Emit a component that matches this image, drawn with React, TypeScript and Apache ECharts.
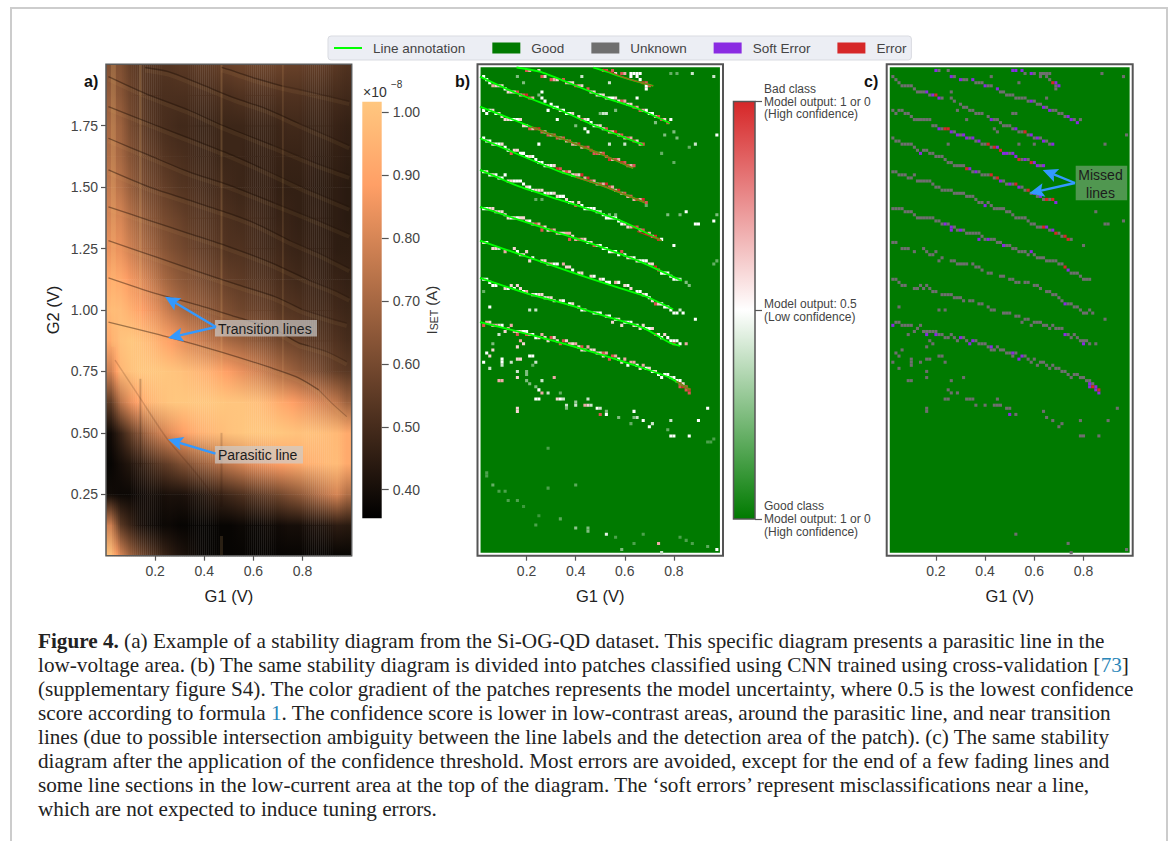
import React, { useEffect, useRef } from "react";
import * as echarts from "echarts";

const SANS = "Liberation Sans";
const SERIF = "Liberation Serif";

// --- tick labels / categories
const X_TICKS = [0.2, 0.4, 0.6, 0.8];
const Y_TICKS = [0.25, 0.5, 0.75, 1.0, 1.25, 1.5, 1.75];
const CBAR_TICKS = [0.4, 0.5, 0.6, 0.7, 0.8, 0.9, 1.0];
const CONF_TICKS = [0, 0.5, 1];
const CONF_LABELS = [
  "Good class\nModel output: 1 or 0\n(High confidence)",
  "Model output: 0.5\n(Low confidence)",
  "Bad class\nModel output: 1 or 0\n(High confidence)",
];
const LEGEND_NAMES = ["Line annotation", "Good", "Unknown", "Soft Error", "Error"];

// --- panel a: current (x 1e-10 A); rows from G2 = 2 down to 0, 25 columns of G1
const HEAT_ROWS = [
  [62, 62, 56, 54, 53, 53, 53, 54, 54, 55, 55, 56, 57, 58, 58, 58, 58, 58, 57, 57, 56, 56, 55, 54, 52],
  [66, 64, 58, 55, 52, 51, 51, 51, 51, 51, 51, 51, 51, 52, 52, 52, 52, 52, 52, 52, 51, 51, 50, 50, 49],
  [70, 68, 60, 56, 53, 51, 50, 49, 49, 48, 48, 48, 48, 48, 48, 48, 48, 48, 49, 49, 48, 48, 48, 47, 46],
  [72, 70, 63, 59, 56, 54, 52, 51, 50, 49, 49, 48, 48, 48, 47, 47, 47, 47, 47, 47, 47, 46, 46, 46, 45],
  [76, 74, 67, 62, 59, 57, 55, 53, 52, 51, 50, 50, 49, 48, 48, 47, 47, 46, 46, 46, 46, 45, 45, 45, 44],
  [80, 80, 73, 68, 64, 61, 59, 57, 55, 54, 53, 52, 51, 50, 50, 49, 48, 47, 47, 46, 46, 46, 45, 45, 44],
  [84, 84, 78, 73, 69, 65, 62, 60, 58, 56, 55, 54, 52, 52, 51, 50, 49, 49, 48, 47, 47, 46, 46, 45, 45],
  [92, 92, 86, 82, 77, 72, 68, 65, 63, 61, 59, 58, 56, 55, 54, 53, 52, 51, 50, 49, 49, 48, 47, 47, 46],
  [97, 98, 94, 89, 85, 81, 76, 72, 69, 67, 65, 63, 61, 59, 58, 57, 56, 54, 53, 52, 51, 50, 50, 49, 48],
  [92, 100, 102, 100, 97, 93, 89, 85, 81, 78, 75, 73, 70, 68, 66, 64, 62, 60, 58, 57, 55, 54, 53, 52, 50],
  [78, 96, 100, 102, 102, 102, 101, 100, 98, 96, 94, 91, 88, 85, 82, 79, 75, 72, 69, 66, 63, 61, 58, 56, 54],
  [55, 74, 84, 91, 96, 99, 101, 102, 102, 102, 102, 102, 101, 101, 100, 99, 96, 93, 90, 87, 84, 81, 78, 75, 68],
  [39, 47, 56, 64, 72, 78, 83, 87, 91, 94, 96, 98, 100, 101, 102, 102, 102, 102, 101, 100, 100, 99, 98, 97, 92],
  [37, 40, 43, 46, 50, 54, 57, 61, 64, 67, 70, 73, 76, 79, 82, 84, 86, 88, 90, 92, 94, 95, 97, 98, 92],
  [39, 38, 38, 39, 40, 40, 41, 41, 42, 43, 45, 47, 49, 51, 53, 55, 57, 59, 62, 65, 68, 72, 76, 80, 72],
  [78, 54, 47, 41, 39, 38, 38, 37, 37, 37, 37, 37, 37, 38, 38, 38, 39, 39, 40, 40, 41, 42, 43, 45, 44],
  [100, 80, 68, 60, 54, 49, 45, 42, 40, 38, 37, 37, 37, 37, 37, 37, 37, 37, 37, 37, 37, 37, 37, 37, 37],
];

// --- annotated transition lines [G1, G2]
const LINE_TOP0 = [[0.471, 1.987], [0.526, 1.97], [0.6, 1.945], [0.716, 1.912]];
const LINE_TOP1 = [[0.159, 1.987], [0.254, 1.97], [0.376, 1.923], [0.526, 1.862], [0.648, 1.821], [0.784, 1.76]];
const LINE_1 = [[0.01, 1.95], [0.159, 1.882], [0.336, 1.814], [0.471, 1.753], [0.675, 1.672]];
const LINE_2 = [[0.01, 1.828], [0.2, 1.753], [0.376, 1.685], [0.512, 1.631], [0.634, 1.577]];
const LINE_3 = [[0.01, 1.699], [0.172, 1.631], [0.336, 1.563], [0.499, 1.509], [0.682, 1.437]];
const LINE_4 = [[0.01, 1.57], [0.172, 1.502], [0.336, 1.448], [0.499, 1.394], [0.607, 1.353], [0.75, 1.282]];
const LINE_5 = [[0.01, 1.42], [0.172, 1.366], [0.336, 1.312], [0.499, 1.258], [0.662, 1.197], [0.832, 1.119]];
const LINE_6 = [[0.01, 1.282], [0.2, 1.217], [0.376, 1.156], [0.539, 1.102], [0.689, 1.054], [0.797, 1.003]];
const LINE_7 = [[0.01, 1.131], [0.2, 1.068], [0.376, 1.02], [0.526, 0.973], [0.675, 0.927], [0.784, 0.866], [0.825, 0.854]];
const LINE_8 = [[0.01, 0.951], [0.254, 0.89], [0.47, 0.829], [0.674, 0.764], [0.784, 0.724], [0.866, 0.675]];
const GREEN_LINES = [LINE_TOP0, LINE_TOP1, LINE_1, LINE_2, LINE_3, LINE_4, LINE_5, LINE_6, LINE_7, LINE_8];

// panel a shows the same lines running on towards the right edge
const TAILS = [
  [[0.82, 1.89], [0.99, 1.85]],
  [[0.9, 1.71], [0.99, 1.67]],
  [[0.85, 1.6], [0.99, 1.55]],
  [[0.8, 1.5], [0.99, 1.42]],
  [[0.85, 1.37], [0.99, 1.31]],
  [[0.87, 1.23], [0.99, 1.17]],
  [[0.93, 1.08], [0.99, 1.05]],
  [[0.9, 0.97], [0.98, 0.947]],
  [[0.9, 0.83], [0.98, 0.79]],
  [[0.92, 0.62], [0.98, 0.566]],
];
const PARASITIC = [[0.037, 0.796], [0.139, 0.641], [0.247, 0.478], [0.356, 0.349], [0.451, 0.227]];
const RED_SEGMENTS = [
  [[0.512, 1.98], [0.6, 1.945], [0.716, 1.912]],
  [[0.22, 1.745], [0.376, 1.685], [0.512, 1.631], [0.634, 1.577]],
  [[0.4, 1.541], [0.499, 1.509], [0.682, 1.437]],
  [[0.65, 1.32], [0.75, 1.282]],
  [[0.81, 0.71], [0.866, 0.675]],
];
// vertical measurement stripes: [G1, G2 from, G2 to, colour, width]
const STRIPES = [
  [0.03, 0.85, 2.0, "rgba(255,199,127,0.2)", 5],
  [0.14, 0.76, 2.0, "rgba(255,199,127,0.2)", 2],
  [0.14, 0.36, 0.72, "rgba(30,15,5,0.22)", 2],
  [0.47, 0.62, 2.0, "rgba(255,199,127,0.18)", 2],
  [0.47, 0.2, 0.5, "rgba(30,15,5,0.16)", 2],
  [0.47, 0, 0.08, "rgba(255,199,127,0.14)", 3],
  [0.72, 0.62, 2.0, "rgba(255,199,127,0.14)", 1.5],
];

// --- classified patches: [column, row, model output %] in a lattice of 80 x 160
const PATCH_TOP0 = [[41, 158, 90], [42, 158, 90], [44, 158, 90], [45, 157, 60], [47, 157, 90], [48, 157, 70], [50, 157, 50], [51, 157, 50], [52, 157, 50], [53, 157, 50], [50, 156, 50], [52, 156, 50], [53, 155, 50], [54, 154, 100], [55, 154, 90], [56, 153, 90], [55, 153, 50], [55, 152, 50]];
const PATCH_TOP1 = [[16, 158, 90], [20, 158, 60], [21, 156, 90], [24, 155, 90], [26, 155, 60], [28, 155, 90], [30, 154, 60], [32, 153, 90], [36, 152, 90], [37, 151, 60], [40, 150, 50], [43, 149, 50], [45, 149, 60], [47, 148, 90], [50, 147, 60], [51, 146, 90], [53, 145, 90], [55, 145, 50], [59, 143, 90], [62, 141, 90], [63, 142, 50], [60, 142, 90], [61, 142, 60],
  [17, 158, 70], [22, 156, 60], [25, 155, 70], [29, 154, 70], [31, 154, 60], [33, 153, 70], [34, 153, 60], [38, 151, 60], [39, 150, 60], [41, 150, 60], [42, 149, 60], [44, 149, 50], [46, 148, 60], [48, 148, 70], [49, 147, 60], [52, 146, 70], [54, 145, 70], [56, 144, 50], [57, 144, 50], [58, 143, 70]];
const PATCH_1 = [[2, 156, 50], [3, 155, 50], [5, 153, 70], [8, 153, 60], [10, 151, 60], [13, 151, 90], [15, 150, 90], [16, 150, 100], [17, 149, 90], [21, 149, 50], [25, 146, 50], [26, 146, 50], [27, 145, 60], [28, 145, 50], [30, 144, 50], [33, 143, 60], [34, 142, 90], [37, 141, 50], [39, 140, 60], [42, 139, 90], [45, 138, 100], [47, 137, 90], [49, 136, 90], [51, 135, 90], [54, 134, 90],
  [4, 154, 50], [6, 153, 60], [7, 153, 60], [9, 152, 50], [11, 151, 60], [12, 151, 60], [14, 150, 70], [18, 149, 70], [22, 148, 50], [24, 147, 50], [29, 144, 50], [31, 144, 60], [35, 142, 60], [36, 142, 50], [38, 140, 50], [40, 140, 60], [41, 139, 60], [43, 138, 70], [44, 138, 70], [46, 137, 70], [48, 136, 70], [50, 136, 70], [52, 135, 60], [53, 134, 70]];
const PATCH_2 = [[2, 145, 50], [3, 144, 50], [5, 145, 60], [8, 143, 60], [10, 142, 60], [12, 142, 50], [14, 142, 60], [15, 140, 60], [17, 139, 90], [19, 139, 100], [20, 139, 100], [21, 138, 90], [23, 137, 90], [25, 137, 90], [26, 136, 90], [28, 136, 90], [30, 135, 90], [31, 134, 70], [33, 134, 100], [35, 133, 100], [36, 133, 90], [37, 132, 100], [38, 131, 90], [39, 131, 90], [41, 131, 90], [42, 130, 90], [43, 129, 100], [45, 129, 90], [47, 128, 100], [48, 128, 90], [49, 127, 90], [51, 127, 90],
  [4, 145, 50], [6, 144, 50], [7, 144, 60], [9, 142, 60], [11, 142, 50], [13, 142, 50], [16, 140, 60], [18, 139, 70], [22, 138, 70], [24, 137, 70], [27, 136, 70], [29, 135, 70], [32, 134, 70], [34, 133, 70], [40, 131, 70], [44, 129, 70], [46, 129, 70], [50, 127, 70]];
const PATCH_3 = [[2, 136, 50], [5, 134, 60], [8, 134, 60], [9, 133, 50], [11, 131, 90], [12, 132, 60], [15, 131, 50], [17, 130, 60], [20, 128, 50], [21, 128, 50], [23, 127, 60], [24, 127, 50], [26, 126, 100], [27, 126, 90], [29, 125, 90], [32, 124, 70], [34, 124, 100], [36, 123, 100], [37, 122, 90], [40, 121, 90], [42, 121, 100], [43, 120, 90], [46, 119, 100], [48, 118, 90], [50, 117, 90], [52, 116, 100], [54, 116, 100], [55, 115, 90],
  [3, 135, 50], [4, 135, 50], [6, 134, 50], [7, 134, 50], [10, 132, 50], [13, 132, 60], [14, 131, 50], [16, 130, 50], [18, 130, 50], [19, 129, 50], [22, 127, 50], [25, 127, 60], [28, 125, 70], [30, 125, 70], [31, 124, 60], [33, 124, 60], [35, 123, 70], [38, 122, 70], [39, 121, 70], [41, 121, 70], [44, 120, 70], [45, 119, 70], [47, 118, 70], [49, 117, 70], [51, 116, 70], [53, 116, 70]];
const PATCH_4 = [[2, 125, 50], [5, 124, 60], [9, 124, 50], [10, 122, 60], [14, 122, 50], [16, 120, 60], [18, 119, 50], [21, 119, 60], [22, 118, 50], [25, 118, 60], [27, 117, 50], [29, 116, 60], [32, 114, 90], [33, 115, 60], [35, 113, 50], [38, 113, 50], [40, 112, 40], [42, 110, 50], [45, 110, 50], [47, 108, 50], [49, 107, 60], [51, 107, 100], [52, 107, 90], [54, 106, 90], [55, 105, 100], [58, 104, 100], [59, 103, 100], [60, 103, 50],
  [3, 125, 60], [4, 124, 50], [6, 124, 50], [7, 123, 50], [8, 123, 50], [11, 122, 60], [12, 122, 50], [13, 122, 50], [15, 121, 50], [17, 120, 50], [19, 119, 60], [20, 119, 60], [23, 118, 60], [24, 118, 50], [26, 117, 60], [28, 117, 50], [30, 115, 50], [31, 115, 60], [34, 114, 50], [36, 113, 50], [37, 113, 50], [39, 112, 50], [41, 111, 50], [43, 110, 50], [44, 110, 50], [46, 109, 50], [48, 108, 60], [50, 107, 70], [53, 106, 70], [56, 105, 70], [57, 104, 70]];
const PATCH_5 = [[2, 113, 50], [5, 113, 60], [8, 112, 60], [10, 110, 60], [14, 110, 60], [16, 109, 60], [19, 108, 90], [21, 107, 90], [21, 106, 90], [24, 106, 90], [28, 105, 60], [30, 105, 70], [30, 103, 90], [33, 103, 90], [35, 103, 60], [38, 101, 90], [40, 101, 50], [42, 100, 50], [43, 99, 50], [47, 99, 90], [46, 98, 50], [49, 97, 60], [52, 96, 60], [54, 96, 50], [58, 94, 100], [59, 93, 90], [60, 92, 50], [62, 92, 50], [64, 90, 50], [66, 90, 40],
  [3, 113, 50], [4, 113, 60], [6, 112, 60], [7, 112, 60], [9, 111, 60], [11, 110, 50], [12, 110, 60], [13, 110, 50], [15, 110, 60], [17, 109, 50], [18, 108, 70], [20, 108, 70], [22, 107, 60], [23, 106, 60], [25, 106, 70], [26, 105, 70], [27, 105, 60], [29, 105, 70], [31, 104, 60], [32, 103, 70], [34, 103, 70], [36, 102, 50], [37, 102, 60], [39, 101, 60], [41, 100, 50], [44, 99, 60], [45, 99, 50], [48, 98, 50], [50, 97, 60], [51, 97, 50], [53, 96, 50], [55, 96, 50], [56, 95, 60], [57, 95, 60], [61, 92, 50], [63, 91, 50], [65, 90, 50]];
const PATCH_6 = [[2, 102, 60], [5, 100, 60], [9, 99, 70], [12, 100, 60], [14, 98, 60], [16, 99, 60], [17, 96, 60], [21, 96, 60], [24, 95, 70], [28, 95, 70], [30, 94, 60], [33, 92, 60], [37, 91, 60], [40, 90, 60], [42, 89, 50], [45, 89, 70], [48, 88, 60], [50, 87, 60], [54, 85, 60], [55, 85, 50], [58, 82, 90], [60, 82, 50], [62, 81, 50], [64, 79, 50], [66, 80, 40], [67, 79, 50],
  [3, 102, 50], [6, 100, 60], [7, 100, 40], [13, 99, 50], [15, 98, 60], [18, 97, 50], [22, 96, 60], [23, 95, 60], [25, 95, 50], [26, 95, 50], [29, 94, 60], [31, 93, 50], [34, 92, 60], [38, 91, 50], [41, 90, 50], [43, 89, 50], [46, 89, 50], [49, 88, 50], [52, 86, 50], [53, 86, 50], [56, 84, 50], [57, 83, 60], [59, 82, 60], [61, 81, 50], [63, 80, 50], [65, 79, 50]];
const PATCH_7 = [[2, 90, 50], [4, 89, 50], [9, 87, 60], [11, 88, 60], [14, 87, 60], [16, 86, 70], [20, 85, 60], [23, 84, 60], [27, 83, 60], [30, 82, 50], [33, 81, 60], [38, 79, 50], [42, 78, 60], [44, 76, 60], [46, 77, 60], [47, 75, 60], [49, 76, 50], [50, 76, 50], [51, 75, 60], [53, 74, 60], [54, 75, 60], [57, 74, 60], [58, 72, 90], [60, 71, 50], [61, 72, 60], [63, 70, 50], [64, 70, 50], [64, 69, 90], [66, 69, 50], [68, 69, 70],
  [3, 90, 50], [5, 88, 50], [6, 88, 50], [10, 87, 50], [12, 87, 50], [13, 88, 60], [15, 86, 50], [18, 85, 60], [19, 85, 50], [21, 85, 60], [22, 84, 50], [24, 84, 60], [25, 83, 60], [28, 83, 50], [31, 82, 60], [34, 80, 50], [35, 80, 60], [39, 79, 50], [40, 79, 50], [43, 78, 50], [45, 77, 50], [48, 76, 50], [52, 75, 50], [55, 74, 50], [56, 74, 50], [59, 72, 50], [62, 71, 50], [65, 70, 50]];
const PATCH_8 = [[2, 75, 90], [3, 76, 70], [7, 75, 60], [7, 72, 40], [9, 73, 60], [11, 75, 70], [13, 72, 90], [13, 73, 60], [15, 73, 50], [16, 73, 50], [16, 72, 90], [17, 72, 70], [20, 71, 60], [21, 72, 70], [23, 70, 60], [24, 71, 90], [25, 71, 60], [27, 69, 90], [28, 70, 90], [29, 70, 60], [32, 69, 70], [34, 67, 60], [34, 68, 90], [36, 68, 70], [38, 67, 60], [41, 66, 90], [42, 66, 70], [41, 65, 60], [44, 65, 90], [45, 65, 70], [43, 64, 90], [47, 63, 60], [48, 64, 70], [49, 62, 50], [51, 63, 70], [53, 61, 60], [54, 62, 70], [56, 61, 60], [58, 60, 60], [60, 58, 50], [62, 59, 50], [63, 58, 40], [65, 57, 50], [66, 57, 50], [66, 56, 90], [66, 55, 90], [67, 55, 100], [68, 55, 90], [69, 54, 100], [68, 54, 90], [69, 53, 90],
  [4, 76, 60], [5, 75, 70], [6, 75, 70], [8, 75, 50], [10, 74, 70], [12, 73, 70], [14, 73, 60], [18, 72, 50], [19, 71, 50], [22, 71, 60], [26, 70, 60], [30, 69, 70], [31, 69, 60], [33, 68, 60], [35, 67, 60], [37, 67, 60], [39, 66, 60], [40, 66, 60], [46, 64, 50], [50, 63, 70], [52, 62, 50], [55, 61, 50], [57, 60, 50], [59, 59, 50], [61, 59, 50], [64, 58, 50], [67, 56, 60]];
const PATCH_SCATTER = [[3, 66, 50], [5, 67, 60], [4, 65, 60], [2, 63, 50], [4, 61, 40], [8, 64, 50], [8, 63, 50], [8, 62, 40], [11, 63, 40], [13, 64, 60], [14, 64, 60], [17, 65, 50], [18, 65, 50], [19, 63, 40], [14, 70, 70], [15, 69, 60], [13, 68, 60], [13, 60, 40], [13, 58, 60], [7, 57, 70], [8, 57, 70], [21, 57, 40], [25, 58, 70], [20, 54, 50], [21, 53, 70], [23, 53, 40], [19, 51, 50], [20, 51, 50], [26, 51, 60], [27, 51, 50], [28, 51, 40], [36, 51, 40], [32, 49, 40], [29, 49, 40], [35, 49, 70], [36, 49, 60], [37, 49, 40], [39, 48, 50], [40, 48, 40], [40, 46, 90], [42, 46, 50], [51, 47, 50], [52, 45, 40], [54, 44, 50], [57, 43, 40], [56, 42, 50], [63, 44, 40], [63, 39, 50], [64, 39, 50], [69, 39, 50], [72, 44, 50], [75, 48, 50], [13, 48, 60], [13, 47, 60], [42, 7, 45], [59, 4, 70], [60, 1, 40], [78, 2, 50], [34, 156, 40], [43, 154, 40], [70, 157, 40], [77, 156, 40], [52, 149, 50], [21, 151, 50], [23, 145, 50], [26, 142, 50], [41, 144, 40], [42, 144, 40], [35, 139, 50], [36, 138, 50], [43, 134, 40], [48, 134, 40], [20, 134, 50], [78, 137, 50], [71, 134, 40], [4, 81, 50], [17, 80, 40], [19, 80, 40], [71, 77, 50], [68, 112, 50], [71, 108, 50], [72, 108, 50], [77, 109, 50], [64, 101, 50]];
const PATCH_FAINT = [[13, 156, 25], [15, 154, 25], [20, 150, 25], [40, 144, 25], [32, 140, 25], [45, 145, 25], [64, 138, 25], [65, 136, 25], [69, 133, 20], [63, 157, 20], [65, 157, 20], [58, 141, 25], [61, 137, 25], [60, 131, 20], [64, 128, 20], [55, 114, 20], [62, 111, 25], [78, 111, 25], [66, 111, 25], [43, 111, 25], [45, 111, 25], [19, 116, 20], [21, 116, 20], [2, 86, 20], [78, 96, 20], [77, 95, 20], [68, 89, 25], [69, 88, 25], [5, 69, 25], [16, 60, 25], [16, 57, 25], [17, 56, 25], [16, 59, 25], [18, 62, 20], [19, 55, 25], [27, 53, 20], [32, 50, 30], [29, 48, 25], [42, 47, 25], [46, 45, 25], [51, 45, 25], [50, 43, 20], [62, 41, 20], [75, 37, 15], [76, 37, 15], [77, 38, 15], [3, 27, 15], [3, 26, 15], [5, 23, 20], [7, 21, 15], [9, 21, 15], [10, 18, 15], [13, 18, 15], [23, 22, 15], [32, 23, 18], [15, 16, 12], [20, 13, 12], [19, 10, 15], [27, 12, 18], [32, 9, 28], [36, 9, 25], [36, 8, 25], [45, 6, 15], [54, 7, 15], [51, 4, 15], [47, 2, 25], [66, 6, 15], [68, 5, 15], [70, 4, 15], [75, 3, 18], [23, 35, 15]];

const PATCHES = [
  ...PATCH_TOP0, ...PATCH_TOP1, ...PATCH_1, ...PATCH_2, ...PATCH_3, ...PATCH_4,
  ...PATCH_5, ...PATCH_6, ...PATCH_7, ...PATCH_8, ...PATCH_SCATTER, ...PATCH_FAINT,
];
const GOOD_AREA = [[0.0125, 0.0125, 0.9875, 1.9875]];

const CAPTION = [
  "{b|Figure 4.} (a) Example of a stability diagram from the Si-OG-QD dataset. This specific diagram presents a parasitic line in the",
  "low-voltage area. (b) The same stability diagram is divided into patches classified using CNN trained using cross-validation [{l|73}]",
  "(supplementary figure S4). The color gradient of the patches represents the model uncertainty, where 0.5 is the lowest confidence",
  "score according to formula {l|1}. The confidence score is lower in low-contrast areas, around the parasitic line, and near transition",
  "lines (due to possible intersection ambiguity between the line labels and the detection area of the patch). (c) The same stability",
  "diagram after the application of the confidence threshold. Most errors are avoided, except for the end of a few fading lines and",
  "some line sections in the low-current area at the top of the diagram. The ‘soft errors’ represent misclassifications near a line,",
  "which are not expected to induce tuning errors.",
];

// --- style
const CELL = 0.0125;
const GREEN = "#007a00";
const GREY = "#6f6f6f";
const PURPLE = "#8a2be2";
const RED = "#d62728";
const V_MIN = 0.3545;
const V_MAX = 1.017;
const CAPTION_SIZE = 21.2;

function copper(pct: number) {
  const t = Math.min(1, Math.max(0, (pct / 100 - V_MIN) / (V_MAX - V_MIN)));
  return `rgb(${Math.round(255 * Math.min(1, 1.25 * t))},${Math.round(199 * t)},${Math.round(127 * t)})`;
}
function confidence(pct: number) {
  const t = pct / 100;
  const lerp = (a: number[], b: number[], k: number) =>
    `rgb(${a.map((v, i) => Math.round(v + (b[i] - v) * k)).join(",")})`;
  return t < 0.5 ? lerp([0, 122, 0], [255, 255, 255], t / 0.5) : lerp([255, 255, 255], [214, 39, 40], (t - 0.5) / 0.5);
}

const heatData: number[][] = [];
HEAT_ROWS.slice(0, -1).forEach((row, r) => row.forEach((v, c) => heatData.push([c, r, v])));

// one read value per cell; each cell is painted in narrow strips that blend towards its neighbours
const STRIPS = 5;
const rowVal = (r: number, u: number) => {
  const row = HEAT_ROWS[r];
  const p = Math.max(0, Math.min(row.length - 1, u));
  const a = Math.floor(p), b = Math.min(row.length - 1, a + 1);
  return row[a] + (row[b] - row[a]) * (p - a);
};
const renderHeat = (_: any, api: any) => {
  const c = api.value(0), r = api.value(1);
  const w = 1 / 25, h = 2 / (HEAT_ROWS.length - 1);
  const p0 = api.coord([c * w, 2 - r * h]);
  const p1 = api.coord([(c + 1) * w, 2 - (r + 1) * h]);
  const sw = (p1[0] - p0[0]) / STRIPS;
  const children = [];
  for (let s = 0; s < STRIPS; s++) {
    const u = c + (s + 0.5) / STRIPS - 0.5;
    children.push({
      type: "rect",
      shape: { x: p0[0] + s * sw, y: p0[1], width: sw + (c === 24 && s === STRIPS - 1 ? 0 : 0.4), height: p1[1] - p0[1] + 0.5 },
      style: {
        fill: new echarts.graphic.LinearGradient(0, 0, 0, 1, [
          { offset: 0, color: copper(rowVal(r, u)) },
          { offset: 1, color: copper(rowVal(r + 1, u)) },
        ]),
      },
    });
  }
  return { type: "group", children };
};
const renderArea = (color: string) => (_: any, api: any) => {
  const p0 = api.coord([api.value(0), api.value(3)]);
  const p1 = api.coord([api.value(2), api.value(1)]);
  return { type: "rect", shape: { x: p0[0], y: p0[1], width: p1[0] - p0[0], height: p1[1] - p0[1] }, style: { fill: color } };
};
// a patch is centred on its column and row
const renderCell = (fillOf: (v: number) => string) => (_: any, api: any) => {
  const p = api.coord([(api.value(0) - 0.5) * CELL, (api.value(1) + 0.5) * CELL]);
  const s = api.size([CELL, CELL]);
  return { type: "rect", shape: { x: p[0], y: p[1], width: s[0], height: s[1] }, style: { fill: fillOf(api.value(2)) } };
};
const cls = (lo: number, hi: number) => PATCHES.filter((p) => p[2] >= lo && p[2] < hi);

const GRIDS = [
  { left: 106, top: 64.3, width: 245.7, height: 491.4 },
  { left: 362.3, top: 101.7, width: 19.4, height: 416.6 },
  { left: 477.5, top: 64.3, width: 245.5, height: 491.4 },
  { left: 733.5, top: 101.5, width: 21.5, height: 417.5 },
  { left: 886.7, top: 64.3, width: 246, height: 491.4 },
];

function arrow(x0: number, y0: number, x1: number, y1: number) {
  const len = Math.hypot(x1 - x0, y1 - y0);
  const ux = (x1 - x0) / len, uy = (y1 - y0) / len;
  const bx = x1 - ux * 15, by = y1 - uy * 15;
  const nx = bx + ux * 3, ny = by + uy * 3;
  return [
    { type: "line", z: 101, silent: true, shape: { x1: x0, y1: y0, x2: nx, y2: ny }, style: { stroke: "#3399ff", lineWidth: 2.4 } },
    {
      type: "polygon", z: 101, silent: true,
      shape: { points: [[x1, y1], [bx - uy * 7, by + ux * 7], [nx, ny], [bx + uy * 7, by - ux * 7]] },
      style: { fill: "#3399ff" },
    },
  ];
}
const note = (x: number, y: number, w: number, h: number, fill: string, text: string, tx: number, ty: number, align = "left") => [
  { type: "rect", z: 100, silent: true, shape: { x, y, width: w, height: h }, style: { fill } },
  {
    type: "text", z: 102, silent: true, x: tx, y: ty,
    style: { text, fontFamily: SANS, fontSize: 14, fill: "#1c1c1c", align, verticalAlign: "middle", lineHeight: 17.6 },
  },
];
const frame = (g: any, stroke: string, w: number) => ({
  type: "rect", z: 50, silent: true,
  shape: { x: g.left, y: g.top, width: g.width, height: g.height },
  style: { fill: "none", stroke, lineWidth: w },
});
const panelLabel = (text: string, x: number) => ({
  type: "text", silent: true, x, y: 81,
  style: { text, fontFamily: SANS, fontWeight: "bold", fontSize: 16, fill: "#111", verticalAlign: "middle" },
});

function buildOption(): any {
  const axisTick = (vals: number[]) => ({ show: true, length: 5, customValues: vals, lineStyle: { color: "#555", width: 1.2 } });
  const axisLabel = (vals: number[], fmt: (v: number) => string) => ({
    show: true, customValues: vals, formatter: fmt, color: "#444", fontFamily: SANS, fontSize: 14, margin: 8,
  });
  const g1Axis = (gridIndex: number) => ({
    type: "value", gridIndex, min: 0, max: 1, name: "G1 (V)", nameLocation: "middle", nameGap: 32,
    nameTextStyle: { fontFamily: SANS, fontSize: 16.5, color: "#222" },
    axisLine: { show: false }, splitLine: { show: false },
    axisTick: axisTick(X_TICKS), axisLabel: axisLabel(X_TICKS, (v) => v.toFixed(1)),
  });
  const hiddenX = (gridIndex: number) => ({ type: "category", gridIndex, data: [""], show: false });
  const hiddenY = (gridIndex: number) => ({ type: "value", gridIndex, min: 0, max: 2, show: false });
  const lineSeries = (name: string, data: number[][], color: string, width: number, xIdx: number, z = 5, smooth: any = false) => ({
    type: "line", name, data, xAxisIndex: xIdx, yAxisIndex: xIdx, symbol: "none", z, silent: true, smooth,
    lineStyle: { color, width }, itemStyle: { color }, emphasis: { disabled: true },
  });
  const custom = (name: string, idx: number, data: number[][], renderItem: any, color: string, z = 2) => ({
    type: "custom", name, xAxisIndex: idx, yAxisIndex: idx, data, renderItem, itemStyle: { color }, z, silent: true,
    encode: { x: 0, y: 1 },
  });
  const copperTop = new echarts.graphic.LinearGradient(0, 0, 0, 1, [
    { offset: 0, color: "#ffc77f" },
    { offset: 0.2, color: "#ff9f66" },
    { offset: 1, color: "#000000" },
  ]);
  const confBar = new echarts.graphic.LinearGradient(0, 0, 0, 1, [
    { offset: 0, color: "#d62728" },
    { offset: 0.5, color: "#ffffff" },
    { offset: 1, color: "#007a00" },
  ]);

  return {
    animation: false,
    backgroundColor: "#ffffff",
    legend: {
      left: 328, top: 36, padding: [5, 5, 5, 5], itemGap: 27, itemWidth: 28, itemHeight: 11, selectedMode: false,
      backgroundColor: "#eceef4", borderColor: "#d9dbe1", borderWidth: 1, borderRadius: 3,
      textStyle: { fontFamily: SANS, fontSize: 13.5, color: "#444", padding: [0, 0, 0, 6] },
      data: LEGEND_NAMES.map((name, i) =>
        i === 0 ? { name, itemStyle: { opacity: 0 }, lineStyle: { color: "#00ff00", width: 2 } } : { name, icon: "rect" }
      ),
    },
    grid: GRIDS,
    xAxis: [g1Axis(0), hiddenX(1), g1Axis(2), hiddenX(3), g1Axis(4)],
    yAxis: [
      {
        type: "value", gridIndex: 0, min: 0, max: 2, name: "G2 (V)", nameLocation: "middle", nameGap: 45,
        nameTextStyle: { fontFamily: SANS, fontSize: 16.5, color: "#222" },
        axisLine: { show: false }, splitLine: { show: false },
        axisTick: axisTick(Y_TICKS), axisLabel: axisLabel(Y_TICKS, (v) => v.toFixed(2)),
      },
      {
        type: "value", gridIndex: 1, position: "right", min: V_MIN, max: V_MAX, splitLine: { show: false }, axisLine: { show: false },
        axisTick: { ...axisTick(CBAR_TICKS), length: 7, inside: false },
        axisLabel: { ...axisLabel(CBAR_TICKS, (v) => v.toFixed(2)), margin: 11 },
      },
      hiddenY(2),
      {
        type: "value", gridIndex: 3, position: "right", min: 0, max: 1, splitLine: { show: false }, axisLine: { show: false },
        axisTick: { ...axisTick(CONF_TICKS), length: 7 },
        axisLabel: {
          ...axisLabel(CONF_TICKS, (v) => CONF_LABELS[CONF_TICKS.indexOf(v)]),
          fontSize: 12, margin: 9, lineHeight: 12.8, align: "left", color: "#444",
        },
      },
      hiddenY(4),
    ],
    series: [
      // panel a
      custom("Current", 0, heatData, renderHeat, "#ff9f66", 1),
      ...STRIPES.map((s) => lineSeries("Stripe", [[s[0], s[1]], [s[0], s[2]]] as any, s[3] as any, s[4] as any, 0, 2)),
      ...GREEN_LINES.map((l, i) => lineSeries("Transition glow", [...l, ...TAILS[i]].map((p) => [p[0], p[1] - 0.012]), "rgba(255,199,127,0.06)", 4, 0, 3, 0.25)),
      ...GREEN_LINES.map((l) => lineSeries("Transition", l, "rgba(28,14,4,0.42)", 1.3, 0, 4, 0.25)),
      ...GREEN_LINES.map((l, i) => lineSeries("Transition tail", [l[l.length - 1], ...TAILS[i]], "rgba(28,14,4,0.22)", 1.2, 0, 4, 0.25)),
      lineSeries("Parasitic", PARASITIC, "rgba(60,30,10,0.18)", 1.5, 0, 3, 0.25),
      // colour bars
      { type: "bar", name: "Scale", xAxisIndex: 1, yAxisIndex: 1, data: [V_MAX], barWidth: "100%", silent: true, itemStyle: { color: copperTop } },
      { type: "bar", name: "Confidence", xAxisIndex: 3, yAxisIndex: 3, data: [1], barWidth: "100%", silent: true, itemStyle: { color: confBar } },
      // panel b
      custom("Good", 2, GOOD_AREA, renderArea(GREEN), GREEN, 1),
      custom("Model output", 2, PATCHES, renderCell(confidence), RED, 2),
      ...GREEN_LINES.map((l) => lineSeries("Line annotation", l, "#00ff00", 1.8, 2, 5, 0.2)),
      ...RED_SEGMENTS.map((l) => lineSeries("Low confidence", l, "rgba(214,39,40,0.75)", 1.3, 2, 6, 0.2)),
      // panel c
      custom("Good", 4, GOOD_AREA, renderArea(GREEN), GREEN, 1),
      custom("Unknown", 4, cls(35, 85), renderCell(() => GREY), GREY, 2),
      custom("Soft Error", 4, cls(85, 95), renderCell(() => PURPLE), PURPLE, 3),
      custom("Error", 4, cls(95, 101), renderCell(() => RED), RED, 3),
    ],
    graphic: [
      { type: "line", silent: true, shape: { x1: 10, y1: 8, x2: 1168, y2: 8 }, style: { stroke: "#bcbcbc", lineWidth: 1.5 } },
      { type: "line", silent: true, shape: { x1: 11, y1: 8, x2: 11, y2: 841 }, style: { stroke: "#cccccc", lineWidth: 2 } },
      { type: "line", silent: true, shape: { x1: 1167, y1: 8, x2: 1167, y2: 841 }, style: { stroke: "#cccccc", lineWidth: 2 } },
      frame(GRIDS[0], "#5a5a5a", 1.5),
      frame(GRIDS[2], "#555555", 2),
      frame(GRIDS[3], "#555555", 1.5),
      frame(GRIDS[4], "#555555", 2),
      panelLabel("a)", 84),
      panelLabel("b)", 455),
      panelLabel("c)", 864),
      { type: "text", silent: true, x: 363, y: 92, style: { text: "×10", fontFamily: SANS, fontSize: 14, fill: "#333", verticalAlign: "middle" } },
      { type: "text", silent: true, x: 391, y: 84, style: { text: "−8", fontFamily: SANS, fontSize: 10, fill: "#333", verticalAlign: "middle" } },
      {
        type: "text", silent: true, x: 431, y: 310, rotation: Math.PI / 2,
        style: {
          text: "{m|I}{s|SET}{m| (A)}", align: "center", verticalAlign: "middle",
          rich: {
            m: { fontFamily: SANS, fontSize: 15, fill: "#333" },
            s: { fontFamily: SANS, fontSize: 10.5, fill: "#333", padding: [5, 0, 0, 0] },
          },
        },
      },
      ...note(215, 320, 102, 16.5, "rgba(205,205,205,0.68)", "Transition lines", 218, 328.5),
      ...note(215, 446, 88, 17.5, "rgba(205,205,205,0.68)", "Parasitic line", 218, 454.5),
      ...note(1075.7, 165.7, 51.5, 34.5, "rgba(190,190,190,0.42)", "Missed\nlines", 1100.5, 184, "center"),
      ...arrow(216, 327, 165, 296.7),
      ...arrow(216, 327, 168, 338),
      ...arrow(215.5, 453.7, 168, 439.3),
      ...arrow(1075, 183, 1042.7, 170),
      ...arrow(1075, 183, 1029.3, 193.3),
      ...CAPTION.map((t, i) => ({
        type: "text", silent: true, x: 38, y: 641 + i * 24,
        style: {
          text: t, verticalAlign: "middle", fontFamily: SERIF, fontSize: CAPTION_SIZE, fill: "#222",
          rich: {
            b: { fontFamily: SERIF, fontSize: CAPTION_SIZE, fontWeight: "bold", fill: "#222" },
            l: { fontFamily: SERIF, fontSize: CAPTION_SIZE, fill: "#2a86b8" },
          },
        },
      })),
    ],
  };
}

export default function App() {
  const ref = useRef<HTMLDivElement>(null);
  useEffect(() => {
    document.body.style.margin = "0";
    const chart = echarts.init(ref.current!, undefined, { renderer: "svg" });
    chart.setOption(buildOption());
    return () => chart.dispose();
  }, []);
  return <div ref={ref} style={{ width: 1170, height: 841 }} />;
}
